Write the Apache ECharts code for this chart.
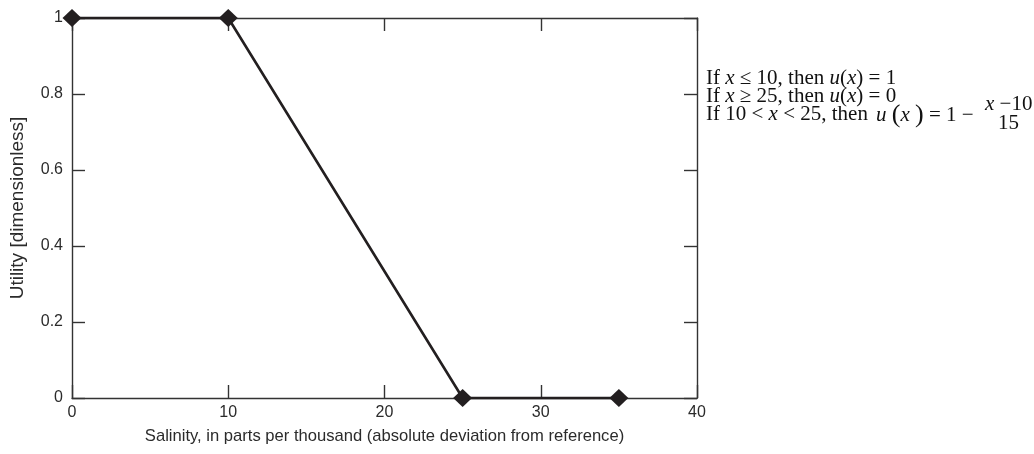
<!DOCTYPE html>
<html>
<head>
<meta charset="utf-8">
<title>Utility function for salinity</title>
<script src="https://cdn.jsdelivr.net/npm/echarts@6/dist/echarts.min.js"></script>
<style>
  html, body { margin: 0; padding: 0; background: #ffffff; }
  #chart { width: 1034px; height: 454px; }
</style>
</head>
<body>
<div id="chart"></div>
<script>
// Salinity (absolute deviation, ppt) and the utility assigned to it
const salinity = [0, 10, 25, 35];
const utility = [1, 1, 0, 0];

// Axis ranges and tick spacing
const xRange = [0, 40];
const xStep = 10;
const yRange = [0, 1];
const yStep = 0.2;

const xTitle = 'Salinity, in parts per thousand (absolute deviation from reference)';
const yTitle = 'Utility [dimensionless]';

const sansFont = "'Liberation Sans Narrow', 'Arial Narrow', 'Liberation Sans', sans-serif";
const serifFont = "'Liberation Serif', 'DejaVu Serif', serif";
const ink = '#231f20';
const frame = '#333333';
const labelColor = '#2b2b2b';
const formulaSize = 21;

const chart = echarts.init(document.getElementById('chart'), null, { renderer: 'canvas' });

const frameAxisCommon = {
  type: 'value',
  splitLine: { show: false },
  axisLine: { show: true, onZero: false, lineStyle: { color: frame, width: 1.4 } },
  axisTick: { show: true, inside: true, length: 13, lineStyle: { color: frame, width: 1.4 } }
};

const italic = { fontStyle: 'italic', fontFamily: serifFont, fontSize: formulaSize, fill: '#111' };
const upright = { fontFamily: serifFont, fontSize: formulaSize, fill: '#111' };
const baseFont = formulaSize + 'px ' + serifFont;

// one line of the piecewise definition, vertically centred on y
function formulaText(x, y, text, rich) {
  return {
    type: 'text', x: x, y: y,
    style: {
      text: text, font: baseFont, fill: '#111',
      verticalAlign: 'middle', align: 'left',
      rich: rich || { i: italic, o: upright }
    }
  };
}

const option = {
  backgroundColor: '#ffffff',
  animation: false,
  grid: { left: 68, right: 337, top: 18, bottom: 56, containLabel: false },
  xAxis: [
    Object.assign({}, frameAxisCommon, {
      position: 'bottom',
      min: xRange[0], max: xRange[1], interval: xStep,
      name: xTitle,
      nameLocation: 'middle',
      nameGap: 30,
      nameTextStyle: { fontFamily: sansFont, fontSize: 16.6, color: labelColor },
      axisLabel: { fontFamily: sansFont, fontSize: 16, color: labelColor, margin: 7 }
    }),
    Object.assign({}, frameAxisCommon, {
      position: 'top',
      min: xRange[0], max: xRange[1], interval: xStep,
      axisLabel: { show: false }
    })
  ],
  yAxis: [
    Object.assign({}, frameAxisCommon, {
      position: 'left',
      min: yRange[0], max: yRange[1], interval: yStep,
      name: yTitle,
      nameLocation: 'middle',
      nameGap: 45,
      nameRotate: 90,
      nameTextStyle: { fontFamily: sansFont, fontSize: 19, color: labelColor },
      axisLabel: {
        fontFamily: sansFont, fontSize: 16, color: labelColor, margin: 9,
        formatter: v => String(Math.round(v * 10) / 10)
      }
    }),
    Object.assign({}, frameAxisCommon, {
      position: 'right',
      min: yRange[0], max: yRange[1], interval: yStep,
      axisLabel: { show: false }
    })
  ],
  series: [{
    type: 'line',
    xAxisIndex: 0,
    yAxisIndex: 0,
    data: salinity.map((s, i) => [s, utility[i]]),
    symbol: 'diamond',
    symbolSize: [19, 18],
    showAllSymbol: true,
    clip: false,
    lineStyle: { color: ink, width: 2.6 },
    itemStyle: { color: ink, borderWidth: 0 },
    z: 5
  }],
  graphic: [
    formulaText(706, 78, 'If {i|x} ≤ 10, then {i|u}({i|x}) = 1'),
    formulaText(706, 96, 'If {i|x} ≥ 25, then {i|u}({i|x}) = 0'),
    formulaText(706, 114, 'If 10 < {i|x} < 25, then'),
    formulaText(876, 115, '{i|u} {p|(}{i|x} {p|)} = 1 −', {
      i: italic, o: upright,
      p: { fontFamily: serifFont, fontSize: formulaSize + 5, fill: '#111' }
    }),
    formulaText(985, 104, '{i|x}{o| −}10'),
    formulaText(998, 123, '15')
  ]
};

chart.setOption(option);
</script>
</body>
</html>
